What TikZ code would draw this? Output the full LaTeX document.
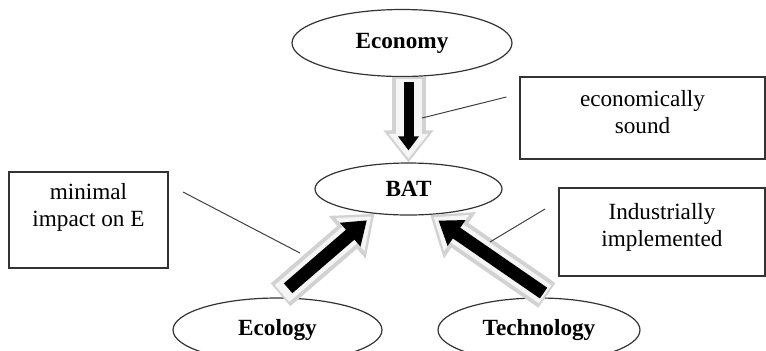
\documentclass[tikz,border=0pt]{standalone}
\usepackage{fontspec}
\setmainfont{Liberation Serif}
\usetikzlibrary{positioning,calc,arrows.meta,shapes.geometric}

\begin{document}
\begin{tikzpicture}[
  x=0.5pt,y=-0.5pt,
  topic/.style={ellipse,draw=black!80,line width=0.6pt,inner sep=0pt,font=\fontsize{11.6}{13.5}\selectfont\bfseries},
  note/.style={rectangle,draw=black!80,line width=0.6pt,inner sep=0pt},
  notetext/.style={inner sep=0pt,align=center,font=\fontsize{11.6}{13.5}\selectfont},
  shadeout/.style={gray!35,line width=#1},
  shadein/.style={gray!8,line width=#1},
  blackarr/.style={black,line width=#1},
  pointer/.style={draw=black!75,line width=0.5pt},
]
\useasboundingbox (0,0) rectangle (766,350);

% Topic ellipses
\node[topic,minimum width=110pt,minimum height=33.5pt] (econ) at (402,43)    {Economy};
\node[topic,minimum width=93.5pt,minimum height=26pt]  (bat)  at (408.5,189) {BAT};
\node[topic,minimum width=104.5pt,minimum height=32pt] (ecol) at (277.5,330) {Ecology};
\node[topic,minimum width=101pt,minimum height=32pt]   (tech) at (539,330)   {Technology};

% Note boxes
\node[note,minimum width=122.5pt,minimum height=41pt] (econbox) at (642.5,118) {};
\node[note,minimum width=79.5pt,minimum height=48pt]  (ecolbox) at (88.5,220)  {};
\node[note,minimum width=103pt,minimum height=44pt]   (techbox) at (662,232)   {};

\node[notetext,below=7pt of econbox.north] (econtxt) {economically\\sound};
\node[notetext,below=6pt of ecolbox.north] (ecoltxt) {minimal\\impact on E};
\node[notetext,below=8pt of techbox.north] (techtxt) {Industrially\\implemented};

% Block arrows (shadow first, then black)
\draw[shadeout=17pt,-{Triangle[width=24pt,length=16pt]}] (bat.north |- econ.south) -- (bat.north);
\draw[shadein=13pt,-{Triangle[width=19pt,length=12.5pt]},shorten >=1.8pt,shorten <=1pt] (bat.north |- econ.south) -- (bat.north);
\draw[blackarr=5pt,-{Triangle[width=10pt,length=7pt]},shorten >=6pt,shorten <=2.5pt] (bat.north |- econ.south) -- (bat.north);

\draw[shadeout=15pt,-{Triangle[width=27pt,length=18pt]},shorten <=2pt] (ecol.north) -- (bat.216);
\draw[shadein=11pt,-{Triangle[width=21pt,length=14pt]},shorten >=2pt,shorten <=3pt] (ecol.north) -- (bat.216);
\draw[blackarr=6.5pt,-{Triangle[width=15pt,length=11pt]},shorten >=5pt,shorten <=7pt] (ecol.north) -- (bat.216);

\draw[shadeout=15pt,-{Triangle[width=27pt,length=18pt]},shorten <=2pt] (tech.71) -- (bat.310);
\draw[shadein=11pt,-{Triangle[width=21pt,length=14pt]},shorten >=2pt,shorten <=3pt] (tech.71) -- (bat.310);
\draw[blackarr=6.5pt,-{Triangle[width=15pt,length=11pt]},shorten >=5pt,shorten <=4pt] (tech.71) -- (bat.310);

% Pointer lines
\coordinate (econpt) at (422,118);
\coordinate (econend) at ($(econbox.west)+(-13,-21)$);
\coordinate (ecolpt) at (300,253);
\coordinate (ecolend) at (183,192);
\coordinate (techpt) at (490,242);
\coordinate (techend) at (545,209);
\draw[pointer] (econpt) -- (econend);
\draw[pointer] (ecolpt) -- (ecolend);
\draw[pointer] (techpt) -- (techend);

\end{tikzpicture}
\end{document}
